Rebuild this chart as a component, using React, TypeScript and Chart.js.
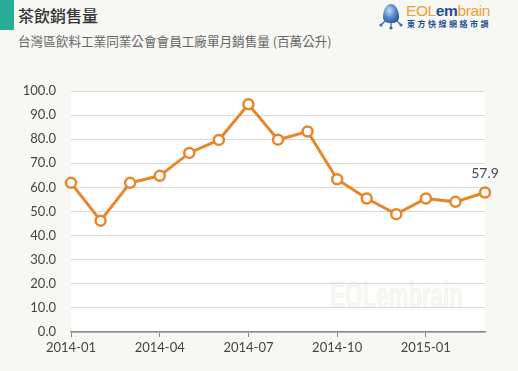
import React, { useEffect, useRef } from "react";
import { Chart, registerables } from "chart.js";

Chart.register(...registerables);

const months = [
  "2014-01", "2014-02", "2014-03", "2014-04", "2014-05", "2014-06", "2014-07",
  "2014-08", "2014-09", "2014-10", "2014-11", "2014-12", "2015-01", "2015-02", "2015-03",
];
const sales = [61.9, 46.2, 61.9, 64.8, 74.3, 79.7, 94.5, 79.8, 83.2, 63.4, 55.4, 48.9, 55.4, 54.0, 57.9];
const yTicks = [0, 10, 20, 30, 40, 50, 60, 70, 80, 90, 100];
const title = "茶飲銷售量";
const subtitle = "台灣區飲料工業同業公會會員工廠單月銷售量 (百萬公升)";

const ORANGE = "#e8862a";
const FONT = "Lato, 'Noto Sans', sans-serif";

const bgPlugin = {
  id: "plotBg",
  beforeDraw(chart: any) {
    const { ctx, chartArea: a } = chart;
    ctx.save();
    ctx.fillStyle = "#ffffff";
    ctx.fillRect(a.left, a.top, a.right - a.left, a.bottom - a.top);
    ctx.restore();
  },
  beforeDatasetsDraw(chart: any) {
    const { ctx, chartArea: a } = chart;
    ctx.save();
    ctx.translate(a.right - 22, a.bottom - 16);
    ctx.scale(0.62, 1);
    ctx.font = "bold 36px 'Liberation Sans', sans-serif";
    ctx.fillStyle = "rgba(225,225,200,0.22)";
    ctx.strokeStyle = "rgba(215,215,195,0.25)";
    ctx.lineWidth = 1;
    ctx.textAlign = "right";
    ctx.textBaseline = "bottom";
    ctx.fillText("EOLembrain", 0, 0);
    ctx.strokeText("EOLembrain", 0, 0);
    ctx.restore();
  },
};

const lastLabelPlugin = {
  id: "lastLabel",
  afterDatasetsDraw(chart: any) {
    const { ctx } = chart;
    const meta = chart.getDatasetMeta(0);
    const i = sales.length - 1;
    const pt = meta.data[i];
    if (!pt) return;
    ctx.save();
    ctx.font = "14px " + FONT;
    ctx.fillStyle = "#3d4a5c";
    ctx.textAlign = "center";
    ctx.textBaseline = "middle";
    ctx.fillText(sales[i].toFixed(1), pt.x, pt.y - 19);
    ctx.restore();
  },
};

function Logo() {
  return (
    <div style={{ position: "absolute", left: 378, top: 2, width: 130, height: 28 }}>
      <svg width="26" height="28" viewBox="0 0 26 28" style={{ position: "absolute", left: 0, top: 0 }}>
        <defs>
          <radialGradient id="dg" cx="0.4" cy="0.35" r="0.7">
            <stop offset="0" stopColor="#c9dcf2" />
            <stop offset="0.5" stopColor="#5f8fcc" />
            <stop offset="1" stopColor="#23559a" />
          </radialGradient>
        </defs>
        <path d="M13 2 C18 2 21 9 21 15 C21 19 18 21 13 21 C8 21 5 19 5 15 C5 9 8 2 13 2 Z" fill="url(#dg)" />
        <path d="M7 19 L3 23 M13 21 L13 26 M19 19 L23 23" stroke="#3c6aa8" strokeWidth="1.3" />
        <circle cx="3" cy="23" r="1.6" fill="#3c6aa8" />
        <circle cx="13" cy="26" r="1.6" fill="#3c6aa8" />
        <circle cx="23" cy="23" r="1.6" fill="#3c6aa8" />
      </svg>
      <div
        style={{
          position: "absolute",
          left: 28,
          top: 1,
          fontFamily: "'Liberation Sans', Arial, sans-serif",
          fontSize: 15.5,
          lineHeight: "16px",
          whiteSpace: "nowrap",
          letterSpacing: "-0.4px",
        }}
      >
        <span style={{ color: "#f0a030" }}>EOL</span>
        <span style={{ color: "#1d4f96", fontWeight: 700 }}>em</span>
        <span style={{ color: "#f0a030" }}>brain</span>
      </div>
      <div
        style={{
          position: "absolute",
          left: 29,
          top: 17,
          fontFamily: "'Noto Sans CJK TC', sans-serif",
          fontSize: 8,
          lineHeight: "9px",
          fontWeight: 700,
          color: "#1d4f96",
          letterSpacing: "2.5px",
          whiteSpace: "nowrap",
        }}
      >
        東方快線網絡市調
      </div>
    </div>
  );
}

export default function App() {
  const canvasRef = useRef<HTMLCanvasElement>(null);

  useEffect(() => {
    if (!canvasRef.current) return;
    const chart = new Chart(canvasRef.current, {
      type: "line",
      data: {
        labels: months,
        datasets: [
          {
            data: sales,
            borderColor: ORANGE,
            borderWidth: 3,
            pointRadius: 5,
            pointBorderWidth: 2.5,
            pointBackgroundColor: "#ffffff",
            pointBorderColor: ORANGE,
            tension: 0,
          },
        ],
      },
      options: {
        animation: false,
        responsive: false,
        maintainAspectRatio: false,
        layout: { padding: { top: 91, right: 33, left: 0, bottom: 0 } },
        plugins: { legend: { display: false }, tooltip: { enabled: false } },
        scales: {
          x: {
            type: "category",
            offset: false,
            afterFit: (s: any) => {
              s.height = 39;
            },
            grid: {
              display: true,
              drawOnChartArea: false,
              drawTicks: true,
              tickLength: 5,
              color: "#888888",
              lineWidth: 1,
            },
            border: { display: true, color: "#888888", width: 1.5 },
            ticks: {
              autoSkip: false,
              maxRotation: 0,
              padding: 3,
              color: "#444444",
              font: { family: FONT, size: 13 },
              callback: (_v: any, i: number) => (i % 3 === 0 ? months[i] : null),
            },
          },
          y: {
            min: 0,
            max: 100,
            afterFit: (s: any) => {
              s.width = 71;
            },
            afterBuildTicks: (s: any) => {
              s.ticks = yTicks.map((v) => ({ value: v }));
            },
            grid: { color: "#d9d9d9", lineWidth: 1, drawTicks: false },
            border: { display: false },
            ticks: {
              padding: 15,
              color: "#444444",
              font: { family: FONT, size: 13 },
              callback: (v: any) => Number(v).toFixed(1),
            },
          },
        },
      },
      plugins: [bgPlugin, lastLabelPlugin],
    } as any);
    return () => chart.destroy();
  }, []);

  return (
    <div
      style={{
        position: "absolute",
        left: 0,
        top: 0,
        width: 518,
        height: 371,
        background: "#f7f7f3",
        overflow: "hidden",
      }}
    >
      <div style={{ position: "absolute", left: 0, top: 0, width: 14, height: 30, background: "#2aab96" }} />
      <div
        style={{
          position: "absolute",
          left: 18,
          top: 5,
          fontFamily: "'Noto Sans CJK TC', sans-serif",
          fontSize: 16,
          lineHeight: "20px",
          fontWeight: 500,
          color: "#333333",
          whiteSpace: "nowrap",
        }}
      >
        {title}
      </div>
      <div
        style={{
          position: "absolute",
          left: 18,
          top: 33,
          fontFamily: "'Noto Sans CJK TC', sans-serif",
          fontSize: 12.6,
          lineHeight: "16px",
          color: "#666666",
          whiteSpace: "nowrap",
        }}
      >
        {subtitle}
      </div>
      <Logo />
      <canvas
        ref={canvasRef}
        width={518}
        height={371}
        style={{ position: "absolute", left: 0, top: 0, width: 518, height: 371 }}
      />
    </div>
  );
}
